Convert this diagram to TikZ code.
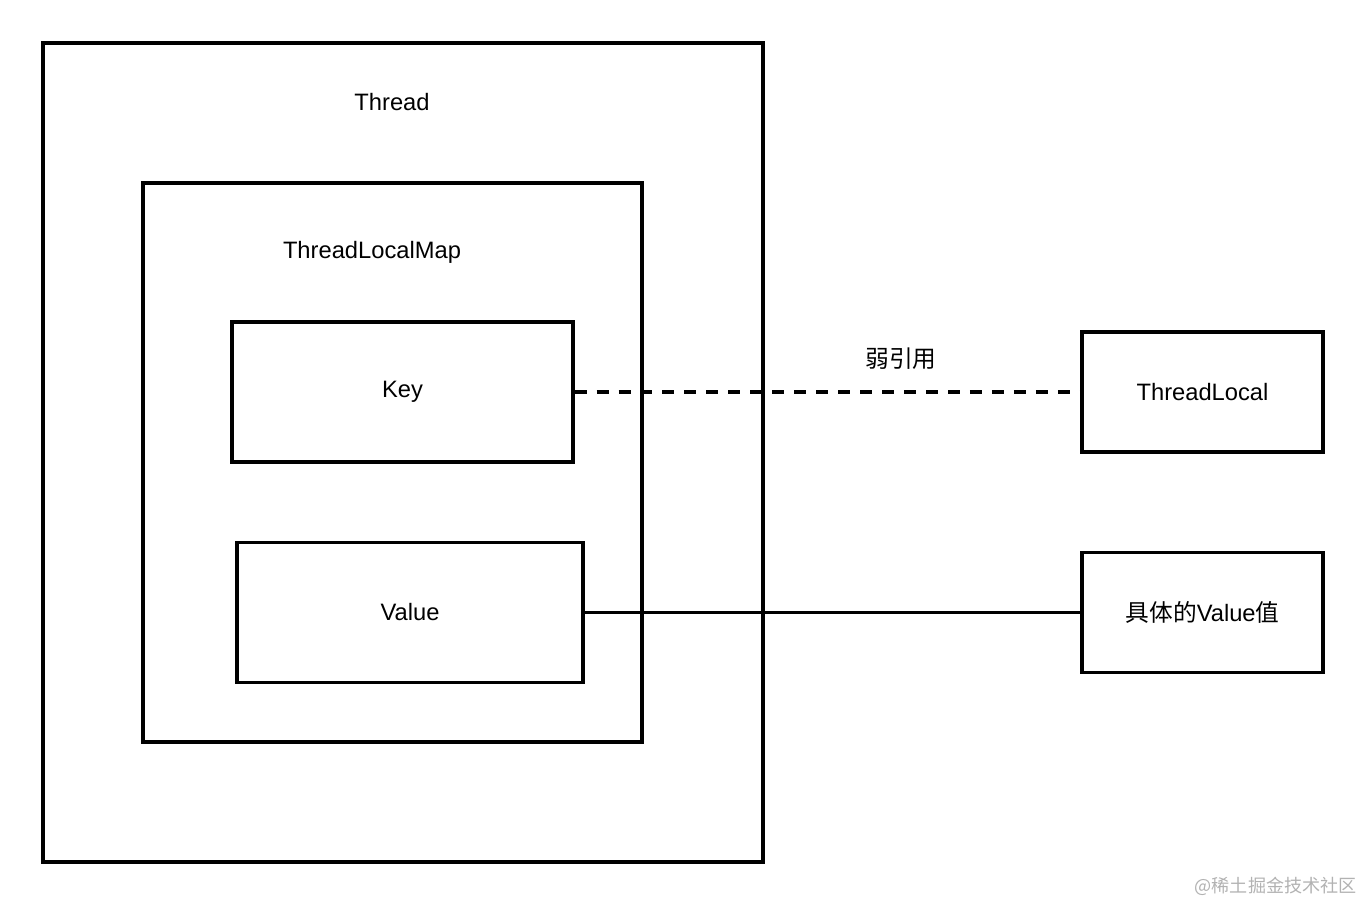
\documentclass[tikz,border=0pt]{standalone}
\usepackage{fontspec}
\setmainfont{Liberation Sans}
\newfontfamily\cjk{Noto Sans CJK SC}
\usepackage{xcolor}
\usetikzlibrary{positioning}

\begin{document}
\begin{tikzpicture}[
    x=0.02cm, y=-0.02cm,
    font=\fontsize{13.5}{16}\selectfont,
    box/.style={rectangle, draw, line width=1.9pt, inner sep=0pt, align=center},
    link/.style={line width=1.9pt},
    weak/.style={link, dash pattern=on 6.8pt off 5.7pt}
]
    \useasboundingbox (0,0) rectangle (1364,904);

    \node[box, minimum width=14.4cm, minimum height=16.38cm] (thread) at (403,452.5) {};
    \node (threadlabel) at (392,102) {Thread};
    \node[box, minimum width=9.98cm, minimum height=11.18cm] (map) at (392.5,462.5) {};
    \node (maplabel) at (372,252) {ThreadLocalMap};
    \node[box, minimum width=6.82cm, minimum height=2.8cm] (key) at (402.5,392) {Key};
    \node[box, minimum width=6.92cm, minimum height=2.8cm] (value) at (410,612.5) {Value};

    \node[box, minimum width=4.82cm, minimum height=2.4cm] (threadlocal) at (1202.5,392) {ThreadLocal};
    \node[box, minimum width=4.82cm, minimum height=2.4cm] (realvalue) at (1202.5,612.5) {{\cjk 具体的}Value{\cjk 值}};

    \draw[weak] (key.east) -- node[above=0.3cm, xshift=1.47cm] (weaklabel) {\cjk 弱引用} (threadlocal.west);
    \draw[link] (value.east) -- (realvalue.west);

    % watermark
    \node[text=black!30, font=\cjk\fontsize{10.3}{12}\selectfont, anchor=east, inner sep=0pt] (mark) at (1357,886) {@稀土掘金技术社区};
\end{tikzpicture}
\end{document}
